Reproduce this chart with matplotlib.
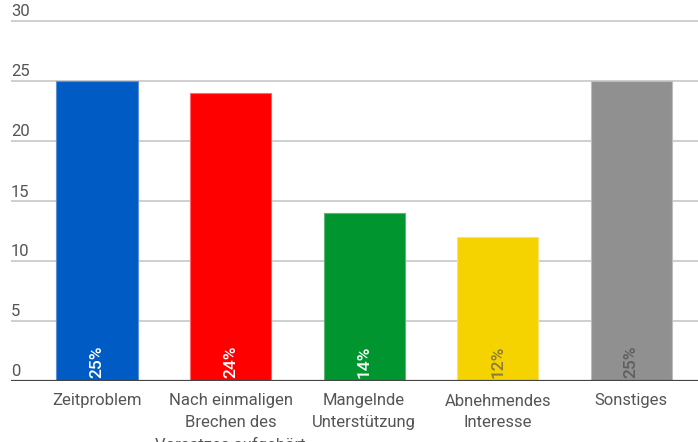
import matplotlib
matplotlib.use("Agg")
import matplotlib.pyplot as plt
import matplotlib.transforms as mtransforms

plt.rcParams['font.family'] = ['Roboto', 'DejaVu Sans']

categories = ["Zeitproblem", "Nach einmaligen\nBrechen des\nVorsatzes aufgehört",
              "Mangelnde\nUnterstützung", "Abnehmendes\nInteresse", "Sonstiges"]
values = [25, 24, 14, 12, 25]
pct_labels = ["25%", "24%", "14%", "12%", "25%"]
colors = ["#005cc5", "#ff0000", "#00952e", "#f5d300", "#909090"]
edge_colors = ["#5d8fd6", "#ff6a6a", "#5fb476", "#f7e27a", "#bdbdbd"]
label_colors = ["#ffffff", "#ffffff", "#ffffff", "#8a7c3a", "#5f5f5f"]
yticks = [0, 5, 10, 15, 20, 25, 30]

fig = plt.figure(figsize=(6.98, 4.42), dpi=100)
ax = fig.add_axes([11/698, 1-381/442, 687/698, 362.4/442])

x = list(range(len(values)))
ax.bar(x, values, width=0.607, color=colors, edgecolor=edge_colors, linewidth=0.8, zorder=3)

ax.set_xlim(-0.644, 4.5)
ax.set_ylim(0, 30.2)

for y in yticks:
    if y > 0:
        ax.axhline(y, color="#cccccc", linewidth=1.3, zorder=1)

ax.axhline(0, color="#444444", linewidth=1.6, zorder=4)

for s in ax.spines.values():
    s.set_visible(False)

ax.set_yticks([])
ax.set_xticks(x)
ax.set_xticklabels(categories, fontsize=12, color="#555555", linespacing=1.55)
ax.tick_params(axis='x', length=0, pad=9)

trans = mtransforms.blended_transform_factory(ax.transAxes, ax.transData)
for y in yticks:
    t = ax.text(0, y, str(y), transform=trans, ha="left", va="baseline",
                fontsize=12, color="#555555", zorder=5)
    t.set_transform(trans + mtransforms.ScaledTranslation(0, 4.5/100, fig.dpi_scale_trans))

for xi, lab, c in zip(x, pct_labels, label_colors):
    t = ax.text(xi, 0, lab, rotation=90, ha="center", va="bottom",
                fontsize=12.5, color=c, zorder=5, fontweight="medium")
    t.set_transform(ax.transData + mtransforms.ScaledTranslation(0, 3/100, fig.dpi_scale_trans))

fig.savefig("out.png", dpi=100)
